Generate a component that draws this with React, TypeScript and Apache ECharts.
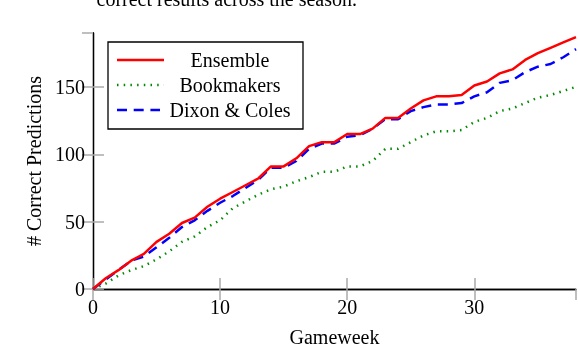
import React, { useEffect, useRef } from "react";
import * as echarts from "echarts";

const gameweeks: number[] = Array.from({ length: 39 }, (_, i) => i);
const ensemble = [0, 8, 14, 21, 26, 35, 41, 49, 53, 61, 67, 72, 77, 82, 91, 91, 97, 106, 109, 109, 115, 115, 119, 127, 127, 134, 140, 143, 143, 144, 151, 154, 160, 163, 170, 175, 179, 183, 187];
const bookmakers = [0, 4, 10, 14, 17, 22, 28, 35, 39, 46, 51, 60, 65, 70, 74, 76, 80, 83, 87, 87, 91, 91, 95, 104, 104, 109, 114, 117, 117, 118, 124, 127, 132, 134, 138, 142, 144, 147, 150];
const dixonColes = [0, 7, 14, 21, 24, 31, 38, 46, 51, 58, 64, 69, 75, 81, 90, 90, 95, 104, 108, 108, 113, 114, 119, 126, 126, 132, 135, 137, 137, 138, 143, 146, 153, 155, 161, 165, 167, 172, 178];
const seriesNames = ["Ensemble", "Bookmakers", "Dixon & Coles"];
const FONT = "'Liberation Serif', 'DejaVu Serif', serif";
const DOTS = [1.5, 5.2];
const DASHES = [10, 6.7];

export default function App() {
  const ref = useRef<HTMLDivElement>(null);
  useEffect(() => {
    if (!ref.current) return;
    const chart = echarts.init(ref.current, undefined, { renderer: "svg" });
    const pair = (arr: number[]) => gameweeks.map((g, i) => [g, arr[i]]);
    const tick = { show: true, inside: true, length: 11, lineStyle: { color: "#aaaaaa", width: 1.5 } };
    const axisLine = { show: true, lineStyle: { color: "#000", width: 1.3 } };
    const legendRows = [
      { y: 60, color: "#ff0000", dash: null as number[] | null, x2: 164, name: seriesNames[0] },
      { y: 85, color: "#008a00", dash: DOTS, x2: 164, name: seriesNames[1] },
      { y: 110, color: "#0000ff", dash: DASHES, x2: 160, name: seriesNames[2] },
    ];
    const graphics: any[] = [
      {
        type: "text", x: 357, y: -11,
        style: { text: "correct results across the season.", font: `20px ${FONT}`, fill: "#000", textAlign: "right", textVerticalAlign: "top" },
      },
      {
        type: "rect", shape: { x: 108, y: 42, width: 195, height: 87 },
        style: { fill: "#fff", stroke: "#000", lineWidth: 1.3 }, z: 10,
      },
    ];
    legendRows.forEach((r) => {
      graphics.push({
        type: "line", shape: { x1: 117, y1: r.y, x2: r.x2, y2: r.y },
        style: { stroke: r.color, lineWidth: 2.5, lineDash: r.dash }, z: 11,
      });
      graphics.push({
        type: "text", x: 230, y: r.y,
        style: { text: r.name, font: `20px ${FONT}`, fill: "#000", textAlign: "center", textVerticalAlign: "middle" }, z: 11,
      });
    });
    chart.setOption({
      animation: false,
      grid: { left: 93, right: 2, top: 33, bottom: 58 },
      xAxis: [
        {
          type: "value", min: 0, max: 38, interval: 10, position: "bottom",
          axisLine, axisTick: tick, splitLine: { show: false },
          axisLabel: { color: "#000", fontFamily: FONT, fontSize: 20, margin: 8, showMaxLabel: false },
          name: "Gameweek", nameLocation: "middle", nameGap: 38,
          nameTextStyle: { color: "#000", fontFamily: FONT, fontSize: 20 },
        },
        {
          type: "value", min: 0, max: 38, interval: 10, position: "top",
          axisLine, axisTick: tick, splitLine: { show: false }, axisLabel: { show: false },
        },
      ],
      yAxis: [
        {
          type: "value", min: 0, max: 190, interval: 50, position: "left",
          axisLine, axisTick: tick, splitLine: { show: false },
          axisLabel: { color: "#000", fontFamily: FONT, fontSize: 20, margin: 8, showMaxLabel: false },
          name: "# Correct Predictions", nameLocation: "middle", nameGap: 48, nameRotate: 90,
          nameTextStyle: { color: "#000", fontFamily: FONT, fontSize: 20 },
        },
        {
          type: "value", min: 0, max: 190, interval: 50, position: "right",
          axisLine, axisTick: tick, splitLine: { show: false }, axisLabel: { show: false },
        },
      ],
      series: [
        {
          name: seriesNames[0], type: "line", data: pair(ensemble), showSymbol: false, symbol: "none",
          lineStyle: { color: "#ff0000", width: 2.5 }, z: 4,
        },
        {
          name: seriesNames[1], type: "line", data: pair(bookmakers), showSymbol: false, symbol: "none",
          lineStyle: { color: "#008a00", width: 2.5, type: DOTS }, z: 2,
        },
        {
          name: seriesNames[2], type: "line", data: pair(dixonColes), showSymbol: false, symbol: "none",
          lineStyle: { color: "#0000ff", width: 2.5, type: DASHES }, z: 3,
        },
      ],
      graphic: graphics,
    });
    return () => chart.dispose();
  }, []);
  return <div ref={ref} style={{ position: "fixed", left: 0, top: 0, width: 578, height: 352 }} />;
}
